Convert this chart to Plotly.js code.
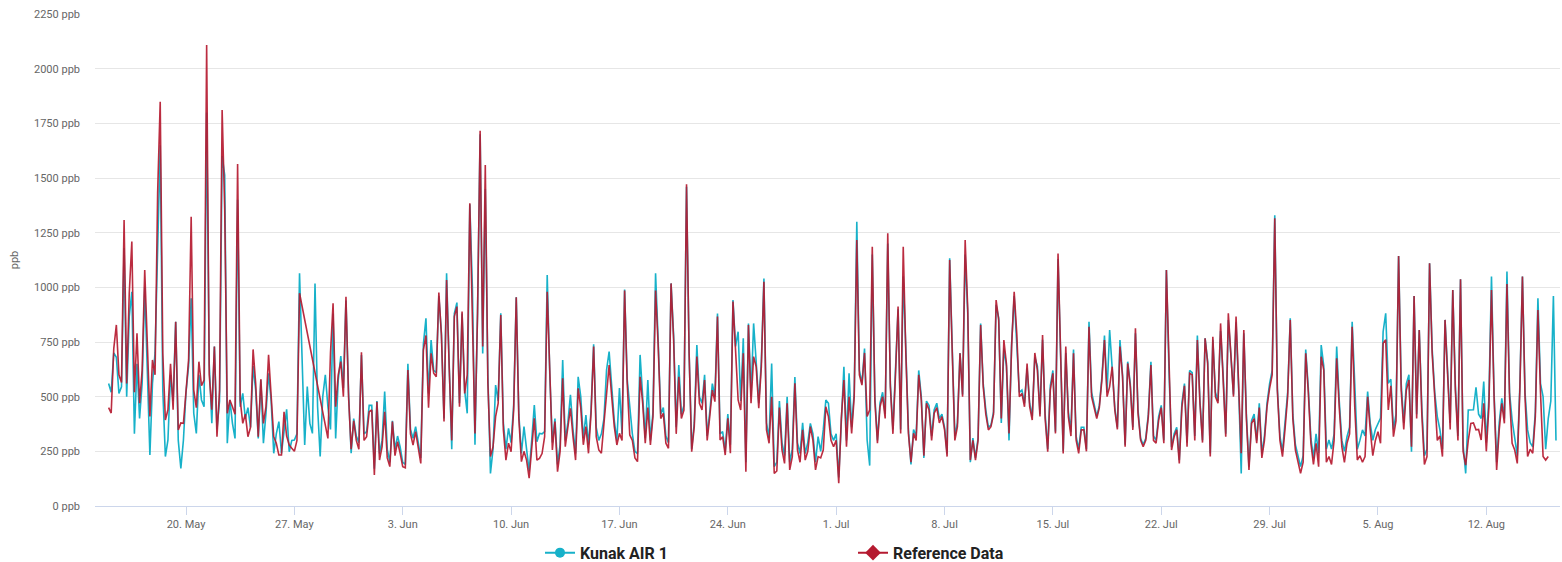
<!DOCTYPE html>
<html>
<head>
<meta charset="utf-8">
<script src="https://cdn.plot.ly/plotly-3.0.1.min.js"></script>
<style>
html,body{margin:0;padding:0;background:#fff;}
#chart{width:1562px;height:562px;}
</style>
</head>
<body>
<div id="chart"></div>
<script>
// Series start 15 May 00:00, one value every 4 hours
const START = '2019-05-15T00:00:00Z';
const STEP_HOURS = 4;
const SERIES_NAMES = ['Kunak AIR 1', 'Reference Data'];

const kunak = [
560,520,700,680,515,545,
1180,500,866,980,330,650,
400,560,1003,620,233,560,
700,1170,1650,530,226,302,
600,480,843,300,172,302,
520,640,950,424,332,600,
485,454,1800,650,378,729,
350,480,1600,1514,287,485,
378,309,1400,454,515,400,
450,360,640,530,309,576,
287,424,607,480,241,330,
386,241,355,442,248,300,
302,330,1064,700,279,546,
378,332,1018,454,226,500,
600,454,350,880,309,576,
686,540,940,520,241,400,
320,290,690,330,340,460,
460,170,480,240,300,523,
260,200,390,260,320,270,
200,190,650,350,310,363,
290,220,740,858,515,759,
620,610,960,790,400,1064,
650,260,880,930,470,880,
530,424,1380,1000,280,890,
1700,698,1450,600,149,260,
553,480,881,380,260,355,
290,460,954,420,240,363,
260,160,300,462,294,332,
330,340,1056,600,290,400,
190,280,668,300,380,508,
350,240,591,500,310,416,
280,440,740,360,300,330,
400,622,706,530,390,300,
540,330,990,580,439,330,
250,240,691,520,310,576,
300,430,1064,760,420,450,
320,290,1018,780,360,645,
420,460,1460,700,260,380,
736,500,470,600,320,430,
560,500,880,330,340,250,
420,280,942,730,797,480,
767,200,835,500,835,660,
470,660,1040,380,310,652,
180,200,480,290,230,500,
200,260,590,290,240,380,
240,290,378,330,200,317,
250,348,485,470,330,300,
330,130,420,637,300,607,
360,520,1300,620,560,720,
302,185,1150,500,300,470,
520,420,1200,560,350,620,
900,350,1050,720,350,190,
350,320,620,500,220,480,
460,320,440,470,400,420,
360,240,1133,720,320,380,
700,510,1150,880,200,310,
220,310,835,560,440,360,
370,430,920,860,380,720,
640,300,740,960,760,520,
530,470,630,470,410,680,
640,420,760,420,260,550,
620,340,1130,700,250,700,
430,340,716,320,260,360,
360,260,843,520,470,410,
460,590,780,520,805,650,
450,360,759,600,280,660,
560,360,790,440,310,280,
310,420,660,320,300,410,
460,300,1079,620,270,330,
360,210,470,560,290,620,
610,320,780,480,300,767,
660,240,760,520,480,800,
600,330,850,690,510,840,
540,149,790,420,180,390,
420,300,470,240,320,470,
560,620,1330,540,320,250,
370,520,858,420,280,230,
180,230,716,540,310,220,
330,241,736,640,260,302,
260,330,729,480,300,250,
317,360,843,561,260,300,
348,320,523,378,300,350,
380,402,797,881,561,580,
350,420,1143,560,380,560,
600,248,960,420,805,450,
230,260,1110,720,520,409,
350,260,851,620,380,988,
550,320,1037,280,149,439,
439,440,543,420,400,569,
290,492,1049,520,200,380,
492,400,1072,520,393,300,
230,550,1049,520,348,290,
270,430,950,560,500,260,
400,480,960,300
];

const reference = [
450,425,720,828,600,565,
1308,560,972,1209,520,790,
470,620,1079,700,410,668,
600,1430,1849,700,393,440,
650,440,843,348,380,378,
546,668,1323,530,450,660,
550,576,2108,600,440,729,
317,530,1811,1354,424,485,
454,420,1564,485,378,420,
317,360,716,561,317,580,
378,454,691,500,317,287,
233,233,431,320,279,264,
250,300,973,null,null,null,
null,null,null,null,null,null,
null,309,700,927,454,600,
660,500,957,500,260,390,
300,260,703,300,317,431,
439,142,477,210,271,431,
220,180,386,230,294,241,
180,175,622,330,279,340,
260,195,713,780,450,698,
607,591,976,780,386,1034,
637,300,866,912,454,889,
515,600,1384,900,332,881,
1716,729,1559,561,226,271,
409,470,873,350,210,287,
248,439,954,400,203,250,
210,127,271,401,210,218,
240,317,980,561,256,386,
157,250,584,271,348,447,
317,210,538,450,280,363,
241,424,729,317,256,241,
378,500,645,500,363,279,
332,300,985,561,325,300,
220,203,591,470,287,450,
279,409,985,736,400,424,
287,264,1018,759,330,591,
400,439,1471,700,248,363,
683,470,439,576,300,409,
530,477,866,302,317,233,
401,241,935,713,485,439,
698,157,828,470,683,637,
447,637,1026,348,287,500,
149,160,450,256,195,470,
165,226,561,256,200,348,
210,250,363,300,165,226,
220,256,454,409,300,271,
300,104,400,576,271,500,
332,500,1216,600,553,700,
409,440,1186,480,287,454,
500,400,1247,546,330,600,
912,332,1186,700,332,200,
332,300,600,485,230,470,
439,300,424,450,380,409,
350,226,1125,700,300,363,
698,500,1216,900,210,300,
210,300,828,546,420,348,
363,420,942,850,400,759,
650,332,729,980,790,500,
515,454,652,454,393,700,
620,409,782,400,248,530,
607,332,1155,700,240,729,
409,320,698,302,241,348,
348,250,820,500,454,400,
450,576,759,500,546,637,
439,350,729,591,271,652,
546,348,813,424,302,271,
300,409,645,300,287,393,
450,287,1079,600,256,317,
348,195,450,550,271,607,
600,300,759,470,290,767,
652,226,774,500,470,835,
591,317,881,700,500,866,
530,241,805,400,165,378,
400,287,450,220,300,454,
538,600,1316,530,300,226,
355,500,851,400,256,200,
149,200,698,520,287,190,
287,180,683,622,200,226,
190,300,675,450,271,200,
287,330,820,454,210,230,
200,226,500,348,230,300,
340,287,744,760,439,550,
317,390,1143,530,350,530,
576,271,960,400,805,420,
190,226,1110,700,500,300,
320,226,851,600,350,988,
530,300,1037,250,187,300,
378,380,348,350,302,470,
250,454,988,500,165,348,
470,378,1015,500,287,256,
195,530,1049,500,226,260,
241,409,896,520,226,210,
226,null,null,null
];

const tickDates = ['2019-05-20','2019-05-27','2019-06-03','2019-06-10','2019-06-17','2019-06-24',
  '2019-07-01','2019-07-08','2019-07-15','2019-07-22','2019-07-29','2019-08-05','2019-08-12'];
const tickLabels = ['20. May','27. May','3. Jun','10. Jun','17. Jun','24. Jun',
  '1. Jul','8. Jul','15. Jul','22. Jul','29. Jul','5. Aug','12. Aug'];
const yTickVals = [0,250,500,750,1000,1250,1500,1750,2000,2250];
const yTickText = yTickVals.map(v => v + ' ppb');

const t0 = Date.parse(START);
const times = kunak.map((_, i) => new Date(t0 + i * STEP_HOURS * 3600000).toISOString().slice(0,19).replace('T',' '));

const CYAN = '#17b1c9';
const RED = '#b51a30';

const traces = [
  {x: times, y: kunak, type: 'scatter', mode: 'lines', name: SERIES_NAMES[0],
   line: {color: CYAN, width: 1.6}, showlegend: false, hoverinfo: 'skip'},
  {x: times, y: reference, type: 'scatter', mode: 'lines', name: SERIES_NAMES[1],
   line: {color: RED, width: 1.6}, opacity: 0.92, connectgaps: true, showlegend: false, hoverinfo: 'skip'},
  {x: [null], y: [null], type: 'scatter', mode: 'lines+markers', name: SERIES_NAMES[0],
   line: {color: CYAN, width: 2}, marker: {symbol: 'circle', size: 10, color: CYAN}},
  {x: [null], y: [null], type: 'scatter', mode: 'lines+markers', name: SERIES_NAMES[1],
   line: {color: RED, width: 2}, marker: {symbol: 'diamond', size: 12, color: RED}}
];

const layout = {
  width: 1562, height: 562,
  margin: {l: 95, r: 2, t: 14, b: 56, autoexpand: false},
  paper_bgcolor: '#fff', plot_bgcolor: '#fff',
  font: {family: 'Roboto, "Liberation Sans", sans-serif', color: '#666', size: 11},
  showlegend: true,
  legend: {orientation: 'h', x: (540-95)/1465, xanchor: 'left', y: -0.095, yanchor: 'middle',
    font: {family: 'Roboto, sans-serif', size: 16, color: '#222', weight: 'bold'},
    entrywidth: 268, entrywidthmode: 'pixels', bgcolor: 'rgba(0,0,0,0)'},
  xaxis: {type: 'date', range: ['2019-05-14 02:54', '2019-08-16 18:14'],
    tickvals: tickDates, ticktext: tickLabels, showgrid: false,
    showline: true, linecolor: '#ccd6eb', linewidth: 1,
    ticks: 'outside', ticklen: 8, tickcolor: '#ccd6eb',
    tickfont: {size: 11, color: '#666'}, zeroline: false, fixedrange: true},
  yaxis: {range: [0, 2250], tickvals: yTickVals, ticktext: yTickText,
    showgrid: true, gridcolor: '#e6e6e6', gridwidth: 1, zeroline: false,
    showline: false, ticks: '', ticklabelstandoff: 14,
    tickfont: {size: 11, color: '#666'},
    title: {text: 'ppb', font: {size: 11, color: '#666'}, standoff: 13}, fixedrange: true}
};

Plotly.newPlot('chart', traces, layout, {displayModeBar: false, staticPlot: true});
</script>
</body>
</html>
